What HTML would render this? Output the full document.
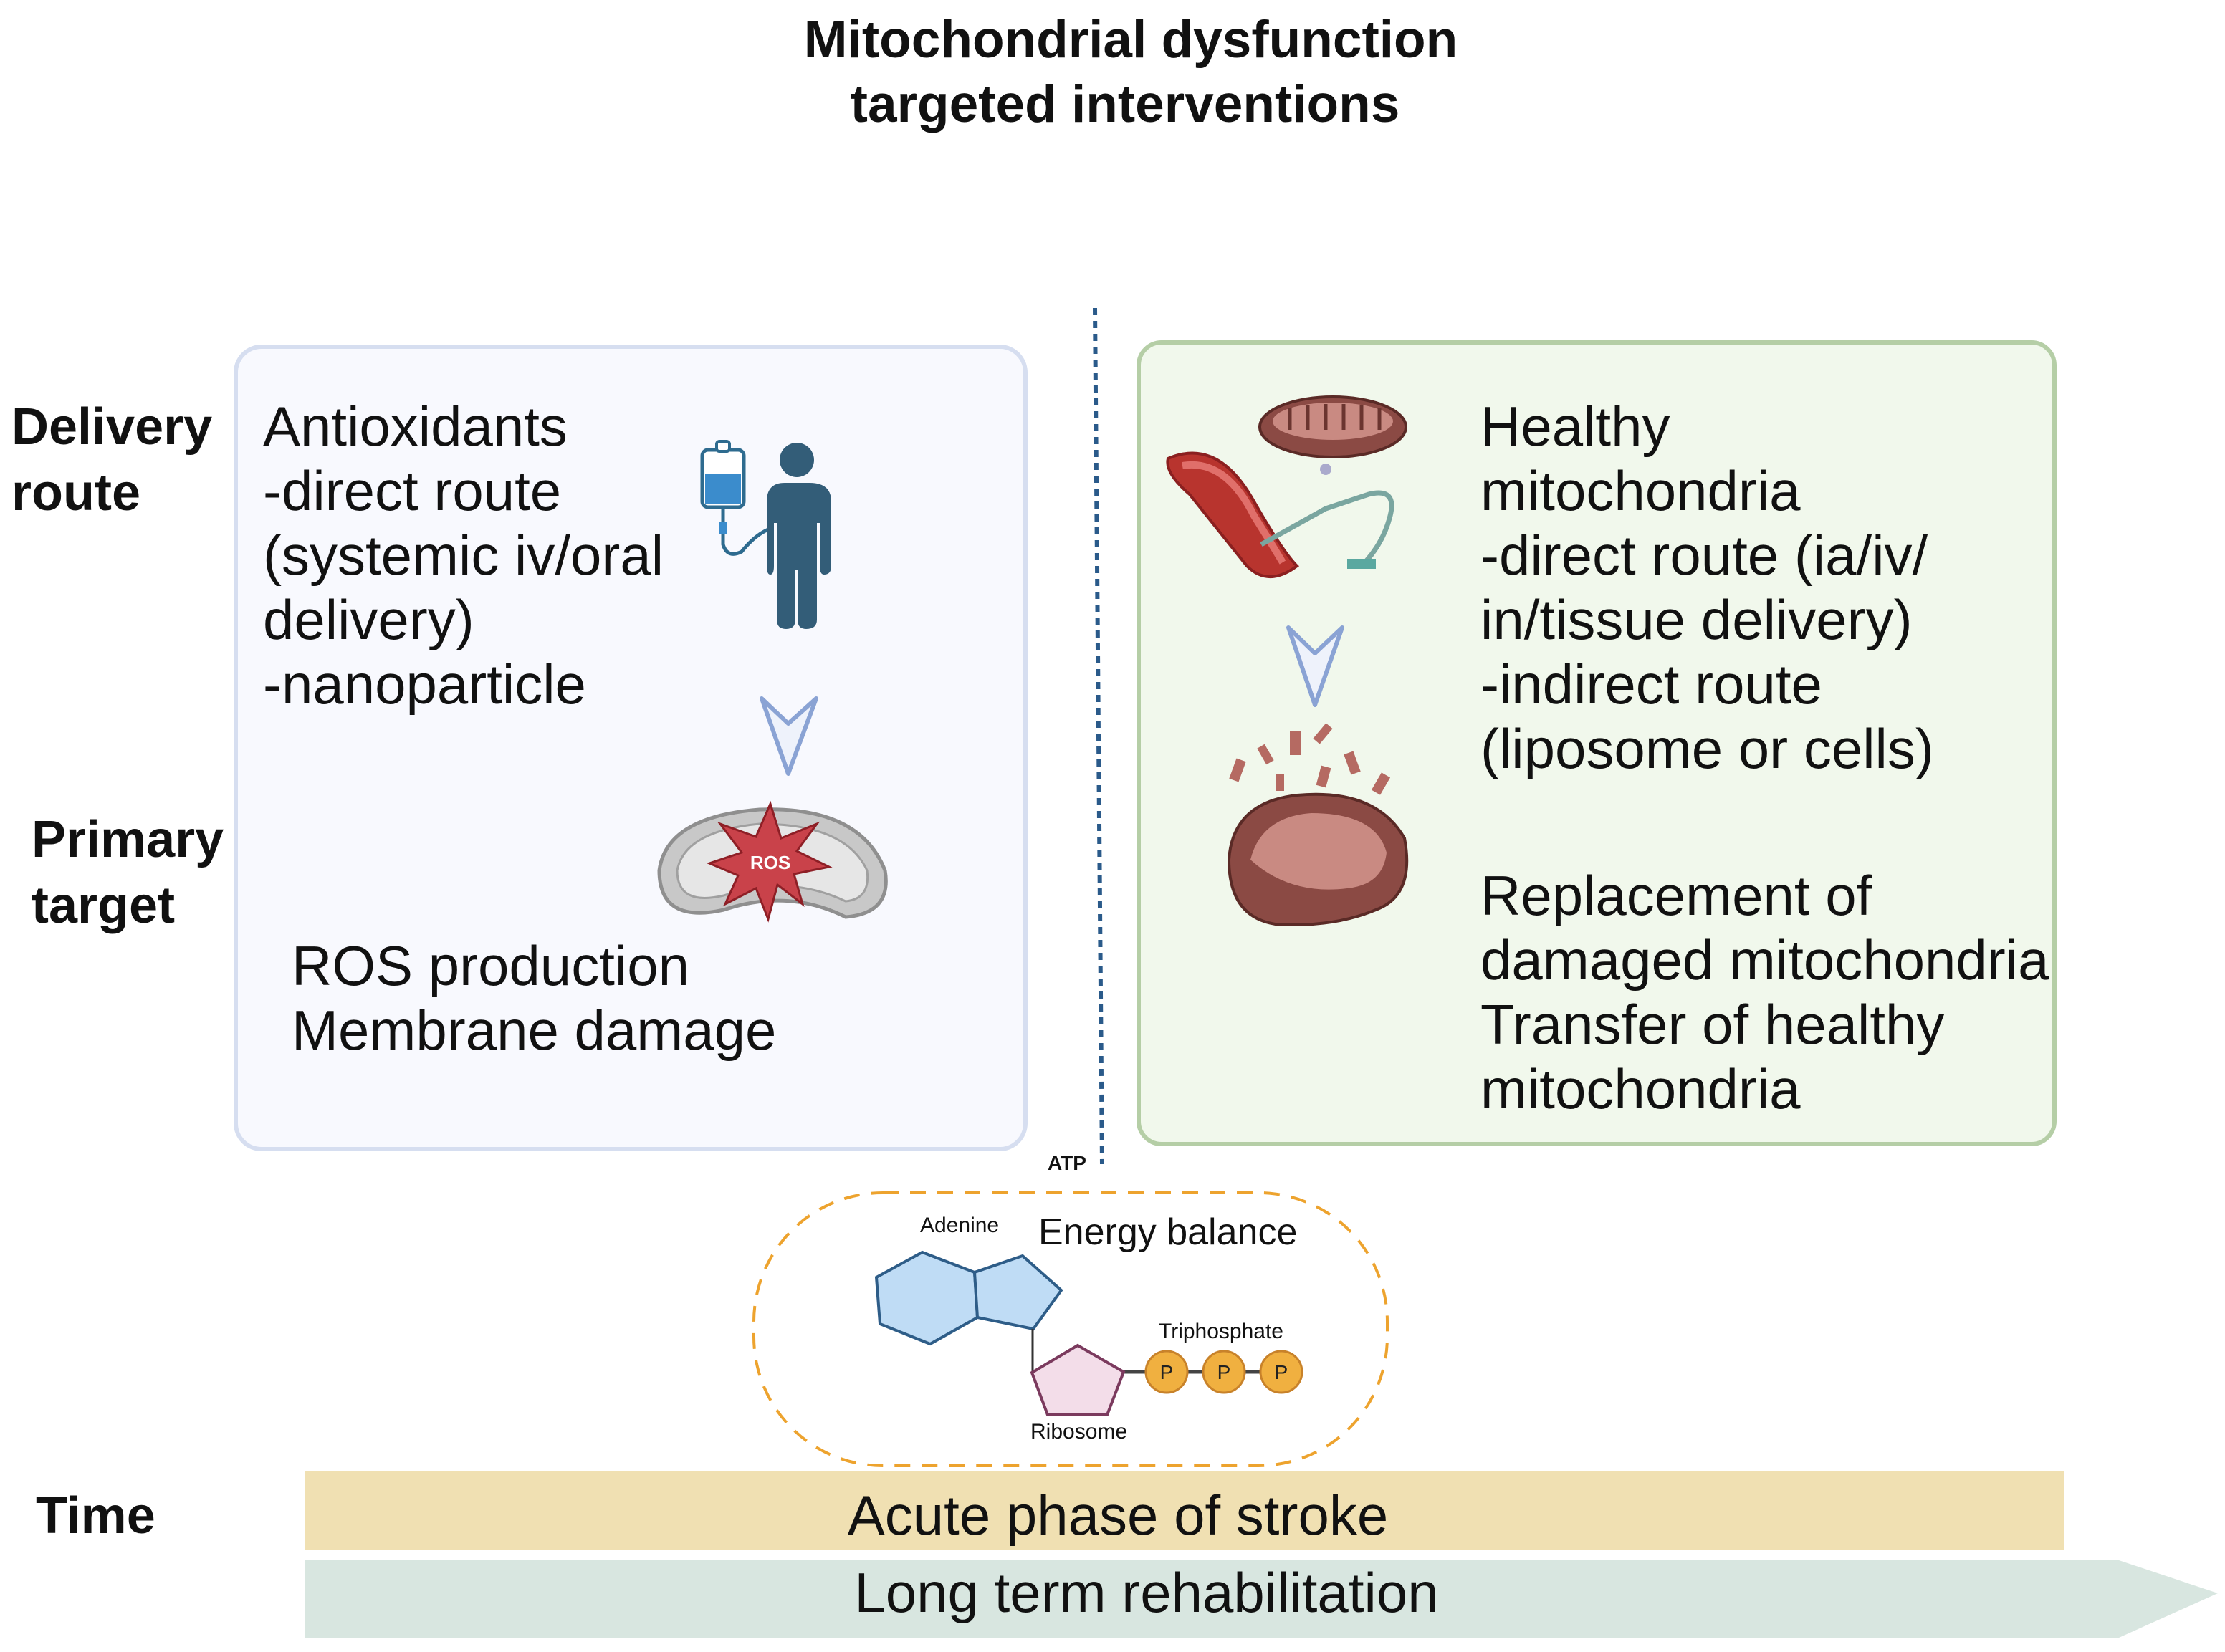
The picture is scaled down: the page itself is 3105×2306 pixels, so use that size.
<!DOCTYPE html>
<html><head><meta charset="utf-8"><style>
html,body{margin:0;padding:0;background:#fff;}
svg{display:block;font-family:"Liberation Sans",sans-serif;}
</style></head><body>
<svg width="3105" height="2306" viewBox="0 0 3105 2306" xmlns="http://www.w3.org/2000/svg">
<g font-weight="bold" font-size="73" text-anchor="middle" fill="#111">
<text x="1578" y="80">Mitochondrial dysfunction</text>
<text x="1570" y="170">targeted interventions</text>
</g>
<g font-weight="bold" font-size="72" fill="#111">
<text x="16" y="620">Delivery</text>
<text x="16" y="712">route</text>
<text x="44" y="1196">Primary</text>
<text x="44" y="1288">target</text>
<text x="50" y="2140">Time</text>
</g>
<rect x="329" y="484" width="1102" height="1120" rx="36" fill="#f8f9fe" stroke="#d6def0" stroke-width="6"/>
<g font-size="78" fill="#111">
<text x="367" y="622">Antioxidants</text>
<text x="367" y="712">-direct route</text>
<text x="367" y="802">(systemic iv/oral</text>
<text x="367" y="892">delivery)</text>
<text x="367" y="982">-nanoparticle</text>
<text x="407" y="1375">ROS production</text>
<text x="407" y="1465">Membrane damage</text>
</g>
<rect x="980" y="628" width="58" height="80" rx="8" fill="#fff" stroke="#2e6b8f" stroke-width="5"/>
<rect x="984" y="662" width="50" height="42" fill="#3b8ccc"/>
<rect x="1000" y="616" width="18" height="14" rx="4" fill="#fff" stroke="#2e6b8f" stroke-width="4"/>
<path d="M1009 708 V760 Q1015 780 1035 770 Q1055 745 1075 738" fill="none" stroke="#2e6b8f" stroke-width="5"/>
<rect x="1004" y="728" width="10" height="18" fill="#3b8ccc"/>
<circle cx="1112" cy="642" r="24" fill="#335d78"/>
<path d="M1070 700 Q1070 674 1095 674 H1130 Q1160 674 1160 700 V790 Q1160 802 1150 802 Q1144 802 1144 790 V730 H1140 V865 Q1140 878 1125 878 Q1113 878 1113 865 V795 H1110 V865 Q1110 878 1097 878 Q1084 878 1084 865 V730 H1080 V790 Q1080 802 1075 802 Q1070 802 1070 790 Z" fill="#335d78"/>
<path d="M1063 975 L1100 1010 L1139 975 L1100 1080 Z" fill="#eef2fb" stroke="#8aa3d4" stroke-width="6" stroke-linejoin="round"/>
<path d="M920 1215 Q930 1140 1060 1130 Q1200 1125 1235 1215 Q1245 1275 1180 1280 Q1100 1240 1010 1270 Q920 1290 920 1215 Z" fill="#c8c8c8" stroke="#8f8f8f" stroke-width="5"/>
<path d="M945 1215 Q955 1160 1060 1150 Q1180 1150 1210 1215 Q1215 1255 1180 1258 Q1100 1220 1010 1250 Q945 1265 945 1215 Z" fill="#e6e6e6" stroke="#a0a0a0" stroke-width="3"/>
<polygon points="1075,1122 1090,1170 1140,1150 1112,1188 1157,1210 1108,1220 1120,1262 1085,1235 1072,1283 1055,1240 1012,1262 1030,1222 990,1205 1035,1190 1005,1150 1055,1168" fill="#c9424a" stroke="#8e1f26" stroke-width="3"/>
<text x="1075" y="1213" font-size="26" font-weight="bold" fill="#fff" text-anchor="middle">ROS</text>
<line x1="1528" y1="430" x2="1538" y2="1625" stroke="#2a5a8a" stroke-width="6" stroke-dasharray="10 8"/>
<rect x="1589" y="478" width="1278" height="1119" rx="32" fill="#f1f8ec" stroke="#b5cea6" stroke-width="6"/>
<g font-size="78" fill="#111">
<text x="2066" y="622">Healthy</text>
<text x="2066" y="712">mitochondria</text>
<text x="2066" y="802">-direct route (ia/iv/</text>
<text x="2066" y="892">in/tissue delivery)</text>
<text x="2066" y="982">-indirect route</text>
<text x="2066" y="1072">(liposome or cells)</text>
<text x="2066" y="1277">Replacement of</text>
<text x="2066" y="1367">damaged mitochondria</text>
<text x="2066" y="1457">Transfer of healthy</text>
<text x="2066" y="1547">mitochondria</text>
</g>
<ellipse cx="1860" cy="596" rx="102" ry="42" fill="#8b4a44" stroke="#5a2a26" stroke-width="4"/>
<ellipse cx="1860" cy="588" rx="84" ry="26" fill="#c98a82"/>
<g stroke="#6b3530" stroke-width="5">
<line x1="1800" y1="570" x2="1800" y2="600"/><line x1="1825" y1="566" x2="1825" y2="600"/><line x1="1850" y1="564" x2="1850" y2="600"/><line x1="1875" y1="564" x2="1875" y2="600"/><line x1="1900" y1="566" x2="1900" y2="600"/><line x1="1925" y1="570" x2="1925" y2="600"/>
</g>
<path d="M1630 640 Q1700 610 1750 700 Q1790 770 1810 790 Q1770 820 1740 790 Q1700 740 1660 690 Q1625 660 1630 640 Z" fill="#b8342e" stroke="#8b2020" stroke-width="4"/>
<path d="M1650 650 Q1710 640 1750 720 Q1775 760 1790 785" fill="none" stroke="#e06f6a" stroke-width="10"/>
<path d="M1760 760 L1850 710 L1910 690 Q1950 680 1940 720 Q1930 760 1900 790" fill="none" stroke="#7aa6a0" stroke-width="7"/>
<rect x="1880" y="780" width="40" height="14" fill="#5aa8a0"/>
<circle cx="1850" cy="655" r="8" fill="#aac"/>
<path d="M1798 876 L1835 912 L1873 876 L1835 984 Z" fill="#eef2fb" stroke="#8aa3d4" stroke-width="6" stroke-linejoin="round"/>
<path d="M1715 1200 Q1720 1120 1810 1110 Q1920 1100 1960 1170 Q1975 1250 1920 1270 Q1860 1295 1780 1290 Q1715 1280 1715 1200 Z" fill="#8b4a44" stroke="#5a2a26" stroke-width="4"/>
<path d="M1745 1200 Q1760 1140 1830 1135 Q1920 1135 1935 1190 Q1930 1235 1880 1240 Q1800 1250 1745 1200 Z" fill="#c98a82"/>
<g fill="#b56a62">
<rect x="1720" y="1060" width="14" height="30" transform="rotate(20 1727 1075)"/>
<rect x="1760" y="1040" width="12" height="26" transform="rotate(-30 1766 1053)"/>
<rect x="1800" y="1020" width="16" height="34"/>
<rect x="1840" y="1010" width="12" height="28" transform="rotate(40 1846 1024)"/>
<rect x="1880" y="1050" width="14" height="30" transform="rotate(-20 1887 1065)"/>
<rect x="1920" y="1080" width="14" height="28" transform="rotate(30 1927 1094)"/>
<rect x="1780" y="1080" width="12" height="24"/>
<rect x="1840" y="1070" width="14" height="28" transform="rotate(15 1847 1084)"/>
</g>
<rect x="1052" y="1665" width="884" height="381" rx="180" fill="none" stroke="#eda32e" stroke-width="4" stroke-dasharray="22 16"/>
<text x="1462" y="1633" font-size="28" font-weight="bold" fill="#111">ATP</text>
<text x="1449" y="1737" font-size="52" fill="#111">Energy balance</text>
<text x="1284" y="1720" font-size="30" fill="#111">Adenine</text>
<text x="1617" y="1868" font-size="30" fill="#111">Triphosphate</text>
<text x="1438" y="2008" font-size="30" fill="#111">Ribosome</text>
<text x="1328" y="2064" font-size="14" font-weight="bold" fill="#111">ADP</text>
<polygon points="1223,1783 1287,1748 1360,1776 1364,1839 1298,1876 1228,1848" fill="#bfdcf5" stroke="#2e5d88" stroke-width="4"/>
<polygon points="1360,1776 1427,1753 1481,1801 1442,1855 1364,1839" fill="#bfdcf5" stroke="#2e5d88" stroke-width="4"/>
<line x1="1441" y1="1855" x2="1441" y2="1916" stroke="#333" stroke-width="3"/>
<line x1="1568" y1="1915" x2="1790" y2="1915" stroke="#444" stroke-width="5"/>
<polygon points="1504,1878 1568,1915 1545,1975 1462,1975 1440,1916" fill="#f3dde9" stroke="#7b3a5e" stroke-width="4"/>
<g fill="#f0b040" stroke="#c8822a" stroke-width="3">
<circle cx="1628" cy="1915" r="29"/><circle cx="1708" cy="1915" r="29"/><circle cx="1788" cy="1915" r="29"/>
</g>
<g font-size="28" fill="#222" text-anchor="middle">
<text x="1628" y="1925">P</text><text x="1708" y="1925">P</text><text x="1788" y="1925">P</text>
</g>
<rect x="425" y="2053" width="2456" height="110" fill="#f0e0b2"/>
<polygon points="425,2178 2957,2178 3095,2224 2957,2286 425,2286" fill="#d8e6e0"/>
<text x="1560" y="2142" font-size="78" text-anchor="middle" fill="#111">Acute phase of stroke</text>
<text x="1600" y="2250" font-size="78" text-anchor="middle" fill="#111">Long term rehabilitation</text>
</svg>
</body></html>
